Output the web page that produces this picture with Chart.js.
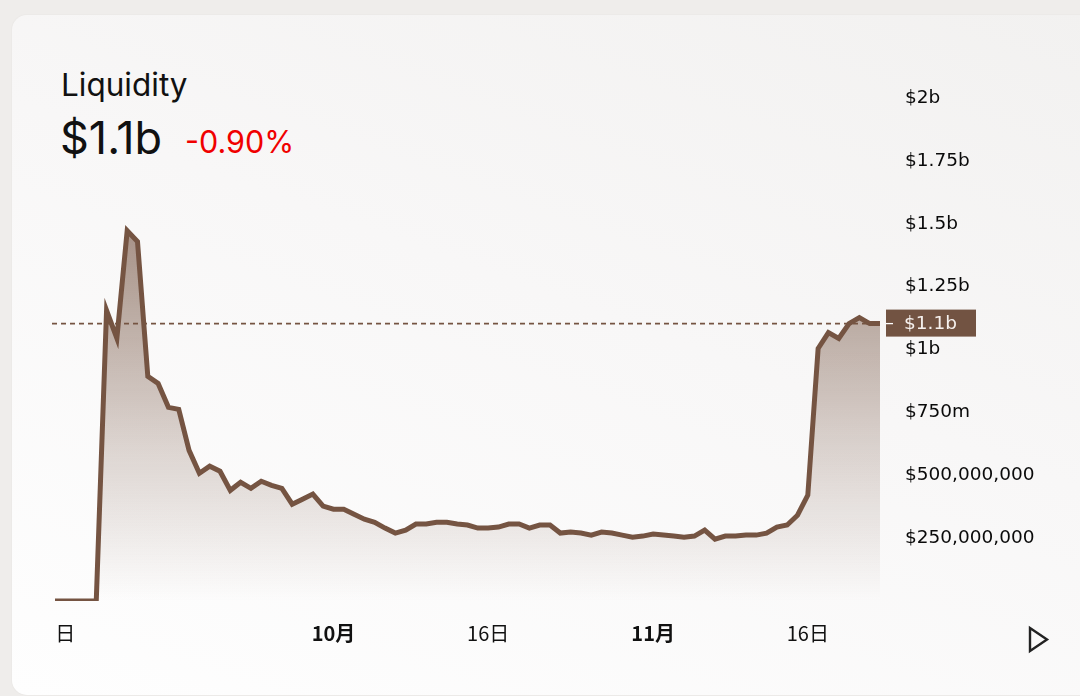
<!DOCTYPE html>
<html>
<head>
<meta charset="utf-8">
<script src="https://cdn.jsdelivr.net/npm/chart.js@4.4.1/dist/chart.umd.min.js"></script>
<style>
  html, body { margin: 0; padding: 0; }
  body { width: 1080px; height: 696px; background: #efedeb; position: relative; overflow: hidden; }
  .card {
    position: absolute; left: 12px; top: 15px; width: 1100px; height: 680px;
    border-radius: 15px;
    background: linear-gradient(200deg, #f2f1f0 0%, #f8f7f7 45%, #fefefe 100%);
    box-shadow: 0 0 2px rgba(0,0,0,0.06);
  }
  .txt { position: absolute; font-family: Inter, "Noto Sans", sans-serif; line-height: 1; white-space: nowrap; }
  #title { left: 61px; top: 69px; font-size: 31.5px; color: #111; }
  #value { left: 60px; top: 115px; font-size: 45px; color: #111; }
  #change { left: 185px; top: 127px; font-size: 30.5px; color: #f00000; }
  #chart { position: absolute; left: 0; top: 0; }
  #play { position: absolute; left: 1024px; top: 624px; }
</style>
</head>
<body>
<div class="card"></div>
<div class="txt" id="title">Liquidity</div>
<div class="txt" id="value">$1.1b</div>
<div class="txt" id="change">-0.90%</div>
<canvas id="chart" width="1080" height="696"></canvas>
<svg id="play" width="30" height="32" viewBox="0 0 30 32">
  <path d="M6 4 L6 27 L23 15.5 Z" fill="none" stroke="#222" stroke-width="2.4" stroke-linejoin="miter"/>
</svg>
<script>
// daily points, 4 Sep -> 23 Nov
const days = [
  '09-04','09-05','09-06','09-07','09-08','09-09','09-10','09-11','09-12','09-13',
  '09-14','09-15','09-16','09-17','09-18','09-19','09-20','09-21','09-22','09-23',
  '09-24','09-25','09-26','09-27','09-28','09-29','09-30',
  '10-01','10-02','10-03','10-04','10-05','10-06','10-07','10-08','10-09','10-10',
  '10-11','10-12','10-13','10-14','10-15','10-16','10-17','10-18','10-19','10-20',
  '10-21','10-22','10-23','10-24','10-25','10-26','10-27','10-28','10-29','10-30','10-31',
  '11-01','11-02','11-03','11-04','11-05','11-06','11-07','11-08','11-09','11-10',
  '11-11','11-12','11-13','11-14','11-15','11-16','11-17','11-18','11-19','11-20',
  '11-21','11-22','11-23'
];

// liquidity in millions of $
const liquidity = [
  0, 0, 0, 0, 0, 1155, 1045, 1472, 1429, 893,
  865, 770, 762, 599, 508, 536, 516, 440, 472, 448,
  476, 460, 448, 385, 405, 425, 377, 365, 365, 345,
  325, 313, 290, 270, 282, 306, 306, 313, 313, 306,
  302, 290, 290, 294, 306, 306, 290, 302, 302, 270,
  274, 270, 262, 274, 270, 262, 254, 258, 266, 262,
  258, 254, 258, 282, 246, 258, 258, 262, 262, 270,
  294, 302, 341, 421, 1004, 1067, 1044, 1103, 1127, 1103,
  1103
];

// x labels shown (others blank)
const xTickIdx = [1, 27, 42, 58, 73];
const xTickText = ['日', '10月', '16日', '11月', '16日'];
const xBoldIdx = [27, 58];

// y ticks (millions) and their text
const yTickVals = [250, 500, 750, 1000, 1250, 1500, 1750, 2000];
const yTickText = ['$250,000,000', '$500,000,000', '$750m', '$1b', '$1.25b', '$1.5b', '$1.75b', '$2b'];

const currentLabel = '$1.1b';
const brown = '#755442';

const lastLinePlugin = {
  id: 'lastLine',
  afterDraw(chart) {
    const c = chart.ctx;
    const area = chart.chartArea;
    const y = chart.scales.y.getPixelForValue(liquidity[liquidity.length - 1]);
    c.save();
    c.strokeStyle = brown;
    c.lineWidth = 1.6;
    c.setLineDash([5, 4]);
    c.beginPath();
    c.moveTo(52, y);
    c.lineTo(area.right, y);
    c.stroke();
    c.setLineDash([]);
    // label box
    c.fillStyle = '#725342';
    c.fillRect(886, y - 14, 90, 27);
    c.strokeStyle = '#ffffff';
    c.lineWidth = 1.3;
    c.beginPath();
    c.moveTo(886, y);
    c.lineTo(893, y);
    c.stroke();
    c.fillStyle = '#f6f1ee';
    c.font = '18.5px "DejaVu Sans"';
    c.textBaseline = 'middle';
    c.textAlign = 'left';
    c.fillText(currentLabel, 904, y + 1);
    c.restore();
  }
};

new Chart(document.getElementById('chart'), {
  type: 'line',
  data: {
    labels: days,
    datasets: [{
      data: liquidity,
      borderColor: brown,
      borderWidth: 5,
      borderJoinStyle: 'miter',
      pointRadius: 0,
      tension: 0,
      fill: 'origin',
      backgroundColor: (ctx) => {
        const chart = ctx.chart;
        const area = chart.chartArea;
        if (!area) return 'rgba(117,84,66,0.3)';
        const top = chart.scales.y.getPixelForValue(Math.max(...liquidity));
        const g = chart.ctx.createLinearGradient(0, top, 0, area.bottom);
        g.addColorStop(0, 'rgba(117,84,66,0.62)');
        g.addColorStop(0.6, 'rgba(117,84,66,0.22)');
        g.addColorStop(1, 'rgba(117,84,66,0.0)');
        return g;
      }
    }]
  },
  options: {
    responsive: false,
    animation: false,
    layout: { padding: { left: 55, top: 98, right: 0, bottom: 0 } },
    plugins: { legend: { display: false }, tooltip: { enabled: false } },
    scales: {
      x: {
        grid: { display: false, drawTicks: false },
        border: { display: false },
        afterFit: (s) => { s.height = 95; },
        ticks: {
          autoSkip: false,
          maxRotation: 0,
          padding: 20,
          color: '#111',
          font: (ctx) => ({
            family: '"Noto Sans CJK SC", "Noto Sans", sans-serif',
            size: 20,
            weight: xBoldIdx.includes(ctx.index) ? 'bold' : 'normal'
          }),
          callback: (v, i) => {
            const k = xTickIdx.indexOf(i);
            return k >= 0 ? xTickText[k] : '';
          }
        }
      },
      y: {
        position: 'right',
        min: 0,
        max: 2000,
        grid: { display: false, drawTicks: false },
        border: { display: false },
        afterFit: (s) => { s.width = 200; },
        afterBuildTicks: (s) => { s.ticks = yTickVals.map(v => ({ value: v })); },
        ticks: {
          padding: 25,
          color: '#0a0a0a',
          font: { family: '"DejaVu Sans"', size: 18.5 },
          callback: (v) => {
            const k = yTickVals.indexOf(v);
            return k >= 0 ? yTickText[k] : '';
          }
        }
      }
    }
  },
  plugins: [lastLinePlugin]
});
</script>
</body>
</html>
